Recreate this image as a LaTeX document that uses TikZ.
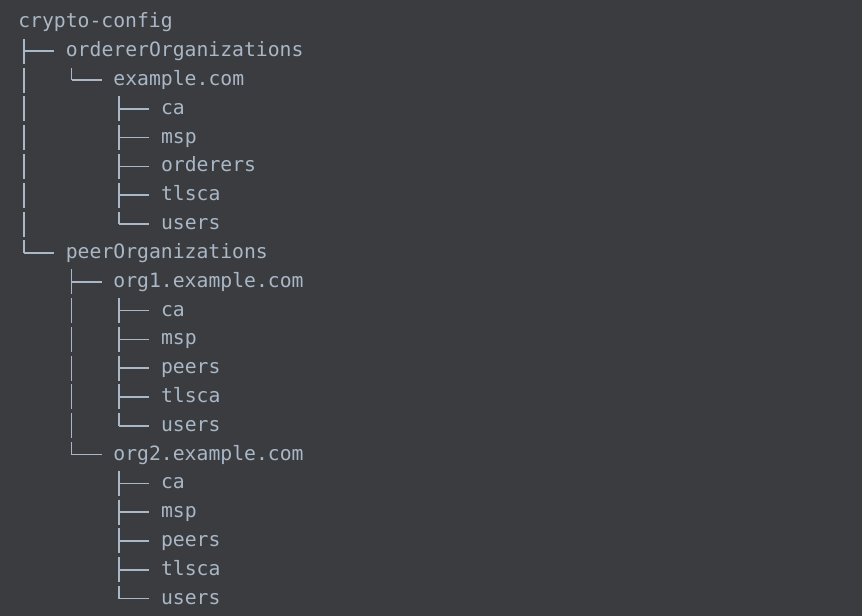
\documentclass[tikz,border=0pt]{standalone}
\usepackage{fontspec}
\setmainfont{DejaVu Sans Mono}
\usetikzlibrary{calc}

\definecolor{termbg}{HTML}{3B3C3F}
\definecolor{termfg}{HTML}{A9B7C6}

\begin{document}
\begin{tikzpicture}[x=0.75pt, y=-0.75pt,
  entry/.style={anchor=base west, inner sep=0pt, text=termfg,
    font=\fontsize{14.8pt}{18pt}\selectfont},
  stem/.style={draw=termfg, line width=1.2pt, dash pattern=on 18.75pt off 2.85pt},
  arm/.style={draw=termfg, line width=1.2pt}]

  \fill[termbg] (0,0) rectangle (862,616);
  \useasboundingbox (0,0) rectangle (862,616);

  \node[entry] (cc) at (18,28) {crypto-config};

  \node[entry] (ord) at (65.6,56.8) {ordererOrganizations};
  \node[entry] (ordex) at (113.2,85.6) {example.com};
  \node[entry] (ordca) at (160.8,114.4) {ca};
  \node[entry] (ordmsp) at (160.8,143.2) {msp};
  \node[entry] (orderers) at (160.8,172) {orderers};
  \node[entry] (ordtls) at (160.8,200.8) {tlsca};
  \node[entry] (ordusers) at (160.8,229.6) {users};

  \node[entry] (peer) at (65.6,258.4) {peerOrganizations};
  \node[entry] (org1) at (113.2,287.2) {org1.example.com};
  \node[entry] (o1ca) at (160.8,316) {ca};
  \node[entry] (o1msp) at (160.8,344.8) {msp};
  \node[entry] (o1peers) at (160.8,373.6) {peers};
  \node[entry] (o1tls) at (160.8,402.4) {tlsca};
  \node[entry] (o1users) at (160.8,431.2) {users};
  \node[entry] (org2) at (113.2,460) {org2.example.com};
  \node[entry] (o2ca) at (160.8,488.8) {ca};
  \node[entry] (o2msp) at (160.8,517.6) {msp};
  \node[entry] (o2peers) at (160.8,546.4) {peers};
  \node[entry] (o2tls) at (160.8,575.2) {tlsca};
  \node[entry] (o2users) at (160.8,604) {users};

  % tree lines
  \foreach \p/\c in {cc/ord, cc/peer, ord/ordex,
      ordex/ordca, ordex/ordmsp, ordex/orderers, ordex/ordtls, ordex/ordusers,
      peer/org1, peer/org2,
      org1/o1ca, org1/o1msp, org1/o1peers, org1/o1tls, org1/o1users,
      org2/o2ca, org2/o2msp, org2/o2peers, org2/o2tls, org2/o2users} {
    \coordinate (\c-top) at ($(\p.base west)+(6,10.8)$);
    \coordinate (\c-arm) at ($(\c.base west)+(-11.6,-5.5)$);
    \draw[stem] (\c-top) -- (\c-top |- \c-arm);
    \draw[arm] (\c-top |- \c-arm) -- (\c-arm);
  }

\end{tikzpicture}
\end{document}
